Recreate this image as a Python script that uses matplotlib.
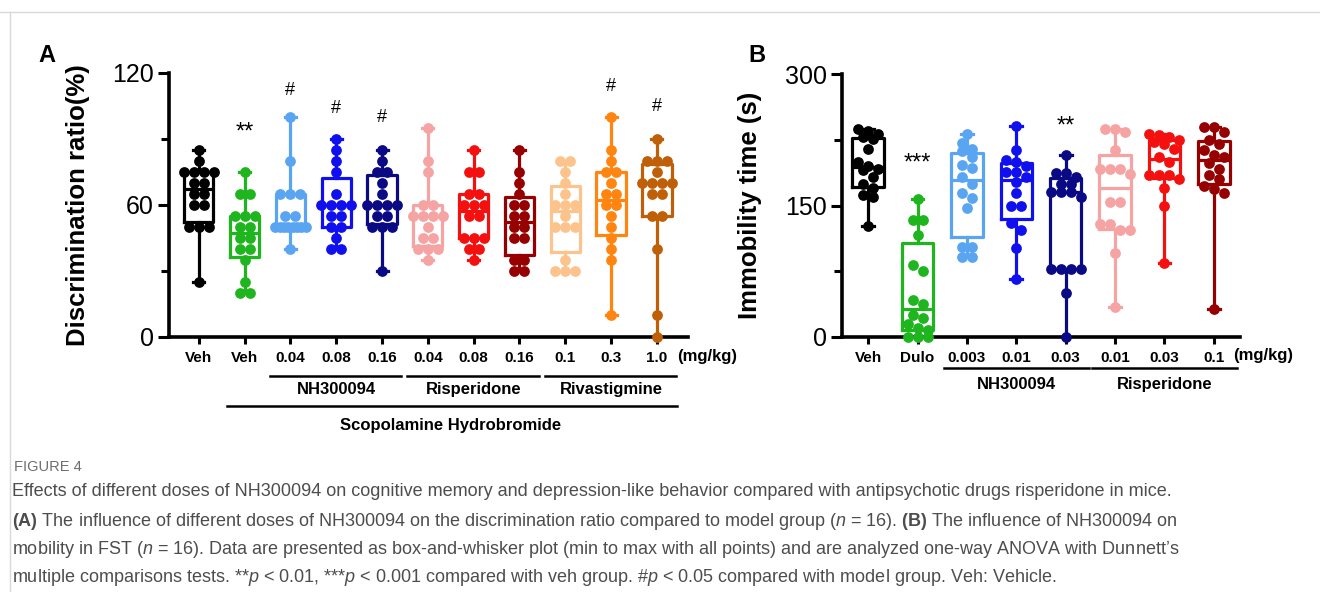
import numpy as np
import matplotlib.pyplot as plt
from matplotlib.lines import Line2D

plt.rcParams['font.family'] = ['Liberation Sans', 'DejaVu Sans']
plt.rcParams['mathtext.fontset'] = 'custom'
plt.rcParams['mathtext.rm'] = 'Liberation Sans'
plt.rcParams['mathtext.it'] = 'Liberation Sans:italic'
plt.rcParams['mathtext.bf'] = 'Liberation Sans:bold'

# ---- panel A: discrimination ratio (%) ----
a_labels = ['Veh', 'Veh', '0.04', '0.08', '0.16', '0.04', '0.08', '0.16', '0.1', '0.3', '1.0']
a_colors = ['#000000', '#1fb51f', '#5aa5f2', '#1010ee', '#0a0a85', '#f5a3a3',
            '#f51010', '#960000', '#fcc48c', '#ff8510', '#bf5f08']
a_veh = [85, 80, 75, 75, 75, 75, 70, 70, 65, 65, 60, 60, 50, 50, 50, 25]
a_scop = [75, 65, 65, 55, 55, 55, 50, 50, 45, 45, 40, 40, 35, 25, 20, 20]
a_nh004 = [100, 80, 65, 65, 65, 55, 55, 50, 50, 50, 50, 50, 50, 50, 50, 40]
a_nh008 = [90, 85, 80, 75, 65, 60, 60, 60, 60, 55, 55, 50, 50, 45, 40, 40]
a_nh016 = [85, 80, 75, 75, 70, 65, 60, 60, 60, 60, 55, 55, 50, 50, 50, 30]
a_ris004 = [95, 80, 75, 60, 60, 55, 55, 55, 55, 50, 45, 45, 40, 40, 40, 35]
a_ris008 = [85, 75, 75, 65, 65, 60, 60, 60, 55, 55, 45, 45, 45, 40, 40, 35]
a_ris016 = [85, 75, 70, 65, 60, 60, 55, 55, 50, 50, 45, 45, 35, 35, 30, 30]
a_riv01 = [80, 80, 75, 70, 65, 60, 60, 60, 55, 50, 50, 50, 35, 30, 30, 30]
a_riv03 = [100, 85, 80, 75, 75, 70, 65, 65, 60, 60, 55, 50, 45, 40, 35, 10]
a_riv10 = [90, 80, 80, 80, 75, 70, 70, 70, 70, 65, 65, 55, 55, 40, 10, 0]
a_data = [a_veh, a_scop, a_nh004, a_nh008, a_nh016, a_ris004, a_ris008,
          a_ris016, a_riv01, a_riv03, a_riv10]
a_marks = {1: '**', 2: '#', 3: '#', 4: '#', 9: '#', 10: '#'}
a_mark_y = {1: 88, 2: 108, 3: 100, 4: 96, 9: 110, 10: 101}

# ---- panel B: immobility time (s) ----
b_labels = ['Veh', 'Dulo', '0.003', '0.01', '0.03', '0.01', '0.03', '0.1']
b_colors = ['#000000', '#1fb51f', '#5aa5f2', '#1010ee', '#0a0a85', '#f5a3a3',
            '#f51010', '#960000']
b_veh = [237, 235, 232, 228, 226, 215, 200, 195, 192, 190, 182, 175, 170, 162, 160, 127]
b_dulo = [157, 134, 134, 116, 82, 75, 42, 38, 25, 22, 15, 10, 8, 0, 0, 0]
b_nh0003 = [231, 221, 215, 212, 205, 196, 193, 183, 175, 164, 158, 147, 103, 103, 91, 91]
b_nh001 = [241, 213, 202, 200, 195, 188, 188, 182, 177, 164, 150, 150, 130, 122, 101, 66]
b_nh003 = [208, 187, 187, 183, 175, 175, 165, 165, 165, 160, 78, 78, 78, 78, 50, 0]
b_ris001 = [237, 237, 234, 213, 192, 192, 192, 186, 154, 154, 129, 129, 122, 122, 96, 34]
b_ris003 = [232, 230, 228, 225, 222, 220, 215, 205, 200, 185, 185, 185, 180, 170, 150, 84]
b_ris01 = [240, 240, 234, 225, 220, 213, 208, 205, 198, 192, 185, 180, 172, 169, 164, 32]
b_data = [b_veh, b_dulo, b_nh0003, b_nh001, b_nh003, b_ris001, b_ris003, b_ris01]
b_marks = {1: '***', 4: '**'}
b_mark_y = {1: 185, 4: 228}

fig = plt.figure(figsize=(13.2, 5.92), dpi=100)
ax_a = fig.add_axes([169 / 1320, 1 - 337 / 592, 519 / 1320, 264 / 592])
ax_b = fig.add_axes([842 / 1320, 1 - 337 / 592, 398 / 1320, 263 / 592])


def swarm(ax, vals, center, diam=10, span=0.66):
    # points that sit within one row are spread evenly, never wider than the box
    sx = ax.transData.transform([(1, 0)])[0][0] - ax.transData.transform([(0, 0)])[0][0]
    sy = ax.transData.transform([(0, 1)])[0][1] - ax.transData.transform([(0, 0)])[0][1]
    order = sorted(vals, reverse=True)
    rows = []
    for v in order:
        if rows and (rows[-1][0] - v) * sy < diam * 0.75:
            rows[-1].append(v)
        else:
            rows.append([v])
    xs, ys = [], []
    for row in rows:
        n = len(row)
        step = min(diam / sx, span / max(n - 1, 1))
        for j, v in enumerate(row):
            xs.append(center + (j - (n - 1) / 2) * step)
            ys.append(v)
    return xs, ys


def draw_panel(ax, data, colors, labels, xlim, yticks, minor, ylabel):
    ax.set_xlim(*xlim)
    ax.set_ylim(yticks[0], yticks[-1])
    for i, (vals, c) in enumerate(zip(data, colors)):
        q1, med, q3 = np.percentile(vals, [25, 50, 75], method='weibull')
        st = dict(med=med, q1=q1, q3=q3, whislo=min(vals), whishi=max(vals), fliers=[])
        ax.bxp([st], positions=[i], widths=0.64, capwidths=0.24, showfliers=False,
               boxprops=dict(color=c, lw=2.3), medianprops=dict(color=c, lw=2.3),
               whiskerprops=dict(color=c, lw=2.3), capprops=dict(color=c, lw=2.3),
               manage_ticks=False)
        xs, ys = swarm(ax, vals, i)
        ax.scatter(xs, ys, s=60, color=c, zorder=3, clip_on=False, linewidths=0)
    ax.set_xticks(range(len(labels)))
    ax.set_xticklabels(labels, fontsize=11, fontweight='bold')
    ax.set_yticks(yticks)
    ax.set_yticks(minor, minor=True)
    ax.tick_params(axis='y', which='major', length=8, width=2.2, labelsize=18, pad=3)
    ax.tick_params(axis='y', which='minor', length=6, width=2.2)
    ax.tick_params(axis='x', length=5, width=2.2, pad=5)
    for s in ['top', 'right']:
        ax.spines[s].set_visible(False)
    for s in ['left', 'bottom']:
        ax.spines[s].set_linewidth(2.6)
    ax.set_ylabel(ylabel, fontsize=18.5, fontweight='bold')


draw_panel(ax_a, a_data, a_colors, a_labels, (-0.65, 10.68), [0, 60, 120], [30, 90],
           'Discrimination ratio(%)')
ax_a.yaxis.set_label_coords(-0.152, 0.5)
draw_panel(ax_b, b_data, b_colors, b_labels, (-0.53, 7.53), [0, 150, 300], [75, 225],
           'Immobility time (s)')
ax_b.yaxis.set_label_coords(-0.2, 0.5)

for i, m in a_marks.items():
    ax_a.text(i, a_mark_y[i], m, ha='center', va='bottom',
              fontsize=17 if '*' in m else 13)
for i, m in b_marks.items():
    ax_b.text(i, b_mark_y[i], m, ha='center', va='bottom', fontsize=17)

# group annotations under the x axis
tr_a = ax_a.get_xaxis_transform()
ax_a.text(11.1, -0.072, '(mg/kg)', transform=tr_a, ha='center', va='center',
          fontsize=12, fontweight='bold')
for lo, hi, name in [(2, 4, 'NH300094'), (5, 7, 'Risperidone'), (8, 10, 'Rivastigmine')]:
    ax_a.plot([lo - 0.45, hi + 0.42], [-0.148, -0.148], transform=tr_a, color='k',
              lw=1.8, clip_on=False)
    ax_a.text((lo + hi) / 2, -0.197, name, transform=tr_a, ha='center', va='center',
              fontsize=12, fontweight='bold')
ax_a.plot([0.62, 10.45], [-0.261, -0.261], transform=tr_a, color='k', lw=1.8, clip_on=False)
ax_a.text(5.5, -0.337, 'Scopolamine Hydrobromide', transform=tr_a, ha='center',
          va='center', fontsize=12, fontweight='bold')

tr_b = ax_b.get_xaxis_transform()
ax_b.text(8.0, -0.072, '(mg/kg)', transform=tr_b, ha='center', va='center',
          fontsize=12, fontweight='bold')
for lo, hi, name in [(2, 4, 'NH300094'), (5, 7, 'Risperidone')]:
    ax_b.plot([lo - 0.47, hi + 0.47], [-0.118, -0.118], transform=tr_b, color='k',
              lw=1.8, clip_on=False)
    ax_b.text((lo + hi) / 2, -0.179, name, transform=tr_b, ha='center', va='center',
              fontsize=12, fontweight='bold')

fig.text(47 / 1320, 1 - 55 / 592, 'A', fontsize=17, fontweight='bold', ha='center', va='center')
fig.text(757 / 1320, 1 - 55 / 592, 'B', fontsize=17, fontweight='bold', ha='center', va='center')

# page frame
fig.add_artist(Line2D([0, 1], [1 - 12 / 592] * 2, color='#d9d9d9', lw=1))
fig.add_artist(Line2D([10 / 1320] * 2, [0, 1 - 12 / 592], color='#d9d9d9', lw=1))

# caption
cap_color = '#4d4d4d'
fig.text(14 / 1320, 1 - 467 / 592, 'FIGURE 4', fontsize=10.5, color='#6e6e6e', va='center')
caption = [
    'Effects of different doses of NH300094 on cognitive memory and depression-like behavior '
    'compared with antipsychotic drugs risperidone in mice.',
    r'$\mathbf{(A)}$ The influence of different doses of NH300094 on the discrimination ratio '
    r'compared to model group ($n$ = 16). $\mathbf{(B)}$ The influence of NH300094 on',
    r'mobility in FST ($n$ = 16). Data are presented as box-and-whisker plot (min to max with '
    r'all points) and are analyzed one-way ANOVA with Dunnett’s',
    r'multiple comparisons tests. **$p$ < 0.01, ***$p$ < 0.001 compared with veh group. '
    r'#$p$ < 0.05 compared with model group. Veh: Vehicle.',
]
for y, line in zip([491, 522, 550, 577], caption):
    fig.text(12 / 1320, 1 - y / 592, line, fontsize=13, color=cap_color, va='center')

fig.savefig('out.png', dpi=100)
